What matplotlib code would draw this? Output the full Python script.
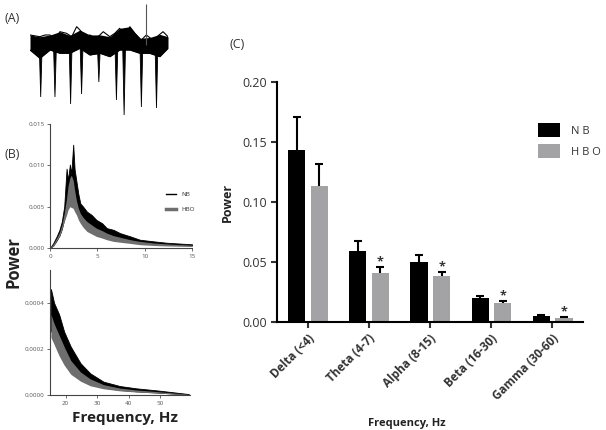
import matplotlib
matplotlib.use("Agg")
import matplotlib.pyplot as plt
import numpy as np

plt.rcParams.update({
    "font.family": ["Open Sans", "DejaVu Sans"],
    "axes.linewidth": 1.0,
})

# ---- (A) raw trace, envelope + spikes (seconds, arbitrary units) ----
trace_t_hi = [0.00, 0.36, 0.55, 0.73, 0.91, 1.09, 1.33, 1.52, 1.70, 1.82, 2.00, 2.18,
              2.42, 2.67, 2.91, 3.09, 3.27, 3.45, 3.64, 3.82, 4.06, 4.24, 4.48, 4.85, 5.03]
trace_hi = [1.0, 0.83, 1.0, 1.0, 0.5, 1.33, 1.17, 0.83, 1.83, 1.5, 0.83, 1.0,
            0.67, 1.33, 0.83, 1.17, 1.67, 0.83, 1.83, 1.17, 0.5, 1.0, 0.5, 1.33, 0.83]
trace_t_lo = [0.00, 0.36, 0.73, 1.09, 1.45, 1.82, 2.18, 2.55, 2.91, 3.27, 3.64, 4.00,
              4.36, 4.73, 5.03]
trace_lo = [-0.5, -1.33, -0.5, -0.83, -0.83, -0.33, -1.0, -0.83, -1.17, -0.5, -0.5,
            -0.83, -0.83, -1.17, -0.33]
spike_t = [0.39, 0.91, 1.48, 1.88, 2.51, 3.15, 3.43, 4.06, 4.61]
spike_v = [-5.2, -5.2, -5.9, -4.9, -3.7, -5.5, -7.0, -6.2, -6.3]
up_spike_t = 4.23
up_spike_v = 4.1

# ---- (B) power spectra, bands (low frequency) ----
freq_lo = [0, 0.35, 0.7, 1.0, 1.25, 1.5, 1.75, 1.9, 2.1, 2.25, 2.45, 2.6, 2.8, 3.0, 3.2,
           3.5, 3.9, 4.4, 4.9, 5.5, 6.0, 6.7, 7.4, 8.5, 9.5, 11, 12.3, 13.5, 15]
nb_hi = [0, 0.0006, 0.0014, 0.0022, 0.0032, 0.0050, 0.0096, 0.0082, 0.0101, 0.0090,
         0.0125, 0.0095, 0.0080, 0.0065, 0.0054, 0.0050, 0.0044, 0.0040, 0.0034, 0.0030,
         0.0024, 0.0022, 0.0018, 0.0014, 0.0010, 0.0008, 0.00064, 0.00055, 0.00045]
nb_lo = [0, 0.0003, 0.0009, 0.0015, 0.0023, 0.0035, 0.0050, 0.0058, 0.0065, 0.0066,
         0.0065, 0.0058, 0.0050, 0.0042, 0.0035, 0.0031, 0.0027, 0.0023, 0.0020, 0.0017,
         0.0014, 0.0012, 0.0010, 0.0008, 0.0006, 0.00048, 0.0004, 0.00035, 0.0003]
hbo_hi = [0, 0.0005, 0.0012, 0.0019, 0.0028, 0.0042, 0.0060, 0.0075, 0.0085, 0.0088,
          0.0082, 0.0070, 0.0057, 0.0048, 0.0042, 0.0037, 0.0032, 0.0028, 0.0024, 0.0021,
          0.0018, 0.0015, 0.0013, 0.0010, 0.0008, 0.0006, 0.0005, 0.00042, 0.00035]
hbo_lo = [0, 0.0002, 0.0009, 0.0014, 0.0022, 0.0032, 0.0040, 0.0046, 0.0050, 0.0049,
          0.0048, 0.0044, 0.0040, 0.0034, 0.0030, 0.0025, 0.0020, 0.0017, 0.0014, 0.0012,
          0.0010, 0.0008, 0.0007, 0.00055, 0.0004, 0.0003, 0.00025, 0.00022, 0.0002]

# ---- (B) high frequency ----
freq_hi = [15.3, 16.3, 17.9, 19.5, 21.6, 24.7, 27.8, 32, 37.2, 42.4, 49.7, 59.1]
nb_hi2 = [0.00046, 0.0004, 0.00035, 0.000275, 0.00021, 0.000138, 0.000094, 0.000058,
          0.000039, 0.000029, 0.000019, 0.000004]
nb_lo2 = [0.00028, 0.00025, 0.0002, 0.00016, 0.00011, 0.00007, 0.00005, 0.000032,
          0.000022, 0.000016, 0.00001, 0.000002]
hbo_hi2 = [0.00035, 0.00031, 0.00026, 0.00021, 0.00015, 0.0001, 0.00007, 0.000045,
           0.00003, 0.000022, 0.000014, 0.000003]
hbo_lo2 = [0.00025, 0.00022, 0.00017, 0.00013, 0.00009, 0.00006, 0.00004, 0.000027,
           0.000018, 0.000013, 0.000008, 0.000001]

# ---- (C) band power ----
bands = ["Delta (<4)", "Theta (4-7)", "Alpha (8-15)", "Beta (16-30)", "Gamma (30-60)"]
nb_mean = [0.143, 0.059, 0.050, 0.020, 0.005]
nb_err = [0.028, 0.0085, 0.006, 0.0017, 0.0006]
hbo_mean = [0.113, 0.041, 0.038, 0.016, 0.0035]
hbo_err = [0.019, 0.005, 0.004, 0.0015, 0.0006]
signif = [False, True, True, True, True]

NB_C = "black"
HBO_C = "#a3a3a5"
SPEC_GREY = "#6e6e6e"
TXT = "#333333"

fig = plt.figure(figsize=(6.06, 4.30), dpi=100)
W, H = 606, 430


def px_axes(x0, y0, x1, y1):
    return fig.add_axes([x0 / W, 1 - y1 / H, (x1 - x0) / W, (y1 - y0) / H])


# (A)
axA = px_axes(30, 0, 168, 118)
axA.fill_between(trace_t_lo, trace_lo, np.interp(trace_t_lo, trace_t_hi, trace_hi),
                 color="black", lw=0)
axA.plot(trace_t_hi, trace_hi, color="black", lw=0.8)
axA.plot(trace_t_lo, trace_lo, color="black", lw=0.8)
for t, v in zip(spike_t, spike_v):
    axA.fill([t - 0.05, t, t + 0.05], [-0.3, v, -0.3], color="black", lw=0.6)
axA.vlines([up_spike_t], 0, [up_spike_v], color="#555555", lw=0.8)
axA.set_xlim(0, 5.03)
axA.set_ylim(-7.3, 4.5)
axA.axis("off")
axA.plot([3.02, 5.02], [-8.3, -8.3], color="black", lw=1.5, clip_on=False)
axA.text(4.02, -9.0, "2 seconds", ha="center", va="top", fontsize=4.5, color=TXT)
fig.text(5 / W, 1 - 18 / H, "(A)", fontsize=9, va="center", color=TXT)
fig.text(5 / W, 1 - 155 / H, "(B)", fontsize=9, va="center", color=TXT)
fig.text(230 / W, 1 - 45 / H, "(C)", fontsize=9, va="center", color=TXT)

# (B) top
axB1 = px_axes(50, 124, 192, 248)
axB1.fill_between(freq_lo, nb_lo, nb_hi, color="black", lw=0.6, edgecolor="black")
axB1.fill_between(freq_lo, hbo_lo, hbo_hi, color=SPEC_GREY, lw=0)
axB1.set_xlim(0, 15)
axB1.set_ylim(0, 0.015)
axB1.set_xticks([0, 5, 10, 15])
axB1.set_yticks([0, 0.005, 0.010, 0.015])
axB1.set_yticklabels(["0.000", "0.005", "0.010", "0.015"])
axB1.plot([], [], color="black", lw=1.0, label="NB")
axB1.plot([], [], color=SPEC_GREY, lw=2.5, label="HBO")
axB1.legend(loc="upper left", bbox_to_anchor=(0.78, 0.5), frameon=False, fontsize=4.5,
            handlelength=1.6, labelspacing=1.6, handletextpad=0.8,
            labelcolor=TXT)

# (B) bottom
axB2 = px_axes(50, 270, 190, 395)
axB2.fill_between(freq_hi, nb_lo2, nb_hi2, color="black", lw=0.6, edgecolor="black")
axB2.fill_between(freq_hi, hbo_lo2, hbo_hi2, color=SPEC_GREY, lw=0)
axB2.set_xlim(15, 59.5)
axB2.set_ylim(0, 0.000543)
axB2.set_xticks([20, 30, 40, 50])
axB2.set_yticks([0, 0.0002, 0.0004])
axB2.set_yticklabels(["0.0000", "0.0002", "0.0004"])

for ax in (axB1, axB2):
    for s in ("top", "right"):
        ax.spines[s].set_visible(False)
    ax.spines["left"].set_color("#444444")
    ax.spines["bottom"].set_color("#444444")
    ax.spines["left"].set_linewidth(0.8)
    ax.spines["bottom"].set_linewidth(0.8)
    ax.tick_params(labelsize=4.5, length=2, width=0.6, colors="#555555", pad=2)

fig.text(14 / W, 1 - 262 / H, "Power", rotation=90, fontsize=12, fontweight="bold",
         ha="center", va="center", color="#222222")
fig.text(125 / W, 1 - 418 / H, "Frequency, Hz", fontsize=11, fontweight="bold",
         ha="center", va="center", color="#222222")

# (C)
axC = px_axes(277, 82, 583, 322)
x = np.arange(len(bands))
off_nb, off_hbo, bw = -0.18, 0.19, 0.28
for off, mean, err, col, lab in ((off_nb, nb_mean, nb_err, NB_C, "N B"),
                                 (off_hbo, hbo_mean, hbo_err, HBO_C, "H B O")):
    top = np.array(mean) + np.array(err)
    axC.bar(x + off, mean, bw, color=col, label=lab, zorder=2)
    # one-sided error bars (upper only)
    axC.vlines(x + off, mean, top, color="black", lw=1.5, zorder=3)
    axC.plot(x + off, top, ls="none", marker="_", ms=6, mew=1.5, color="black", zorder=3)
for xi, m, e, s in zip(x, hbo_mean, hbo_err, signif):
    if s:
        axC.annotate("*", (xi + off_hbo, m + e), xytext=(0, -1), textcoords="offset points",
                     ha="center", va="bottom", fontsize=9, fontweight="bold", color=TXT)
axC.set_xlim(-0.5, 4.5)
axC.set_ylim(0, 0.20)
axC.set_yticks([0, 0.05, 0.10, 0.15, 0.20])
axC.set_yticklabels(["0.00", "0.05", "0.10", "0.15", "0.20"])
axC.set_xticks(x)
axC.set_xticklabels(bands, rotation=45, ha="right", rotation_mode="anchor",
                    fontsize=8.5, fontweight="bold", color=TXT)
for s in ("top", "right"):
    axC.spines[s].set_visible(False)
axC.spines["left"].set_linewidth(1.5)
axC.spines["bottom"].set_linewidth(1.5)
axC.tick_params(axis="y", labelsize=9, length=4, width=1.5, colors=TXT)
axC.tick_params(axis="x", length=4, width=1.5, colors=TXT, pad=3)
axC.set_ylabel("Power", fontsize=9, fontweight="bold", color="#222222", labelpad=6)
axC.set_xlabel("Frequency, Hz", fontsize=8, fontweight="bold", color="#222222")
axC.xaxis.set_label_coords(0.425, -0.40)
axC.legend(loc="upper left", bbox_to_anchor=(0.82, 0.87), frameon=False, fontsize=8,
           handlelength=2.0, handleheight=1.6, labelspacing=0.6, handletextpad=1.0,
           labelcolor=TXT)

fig.savefig("out.png", dpi=100)
